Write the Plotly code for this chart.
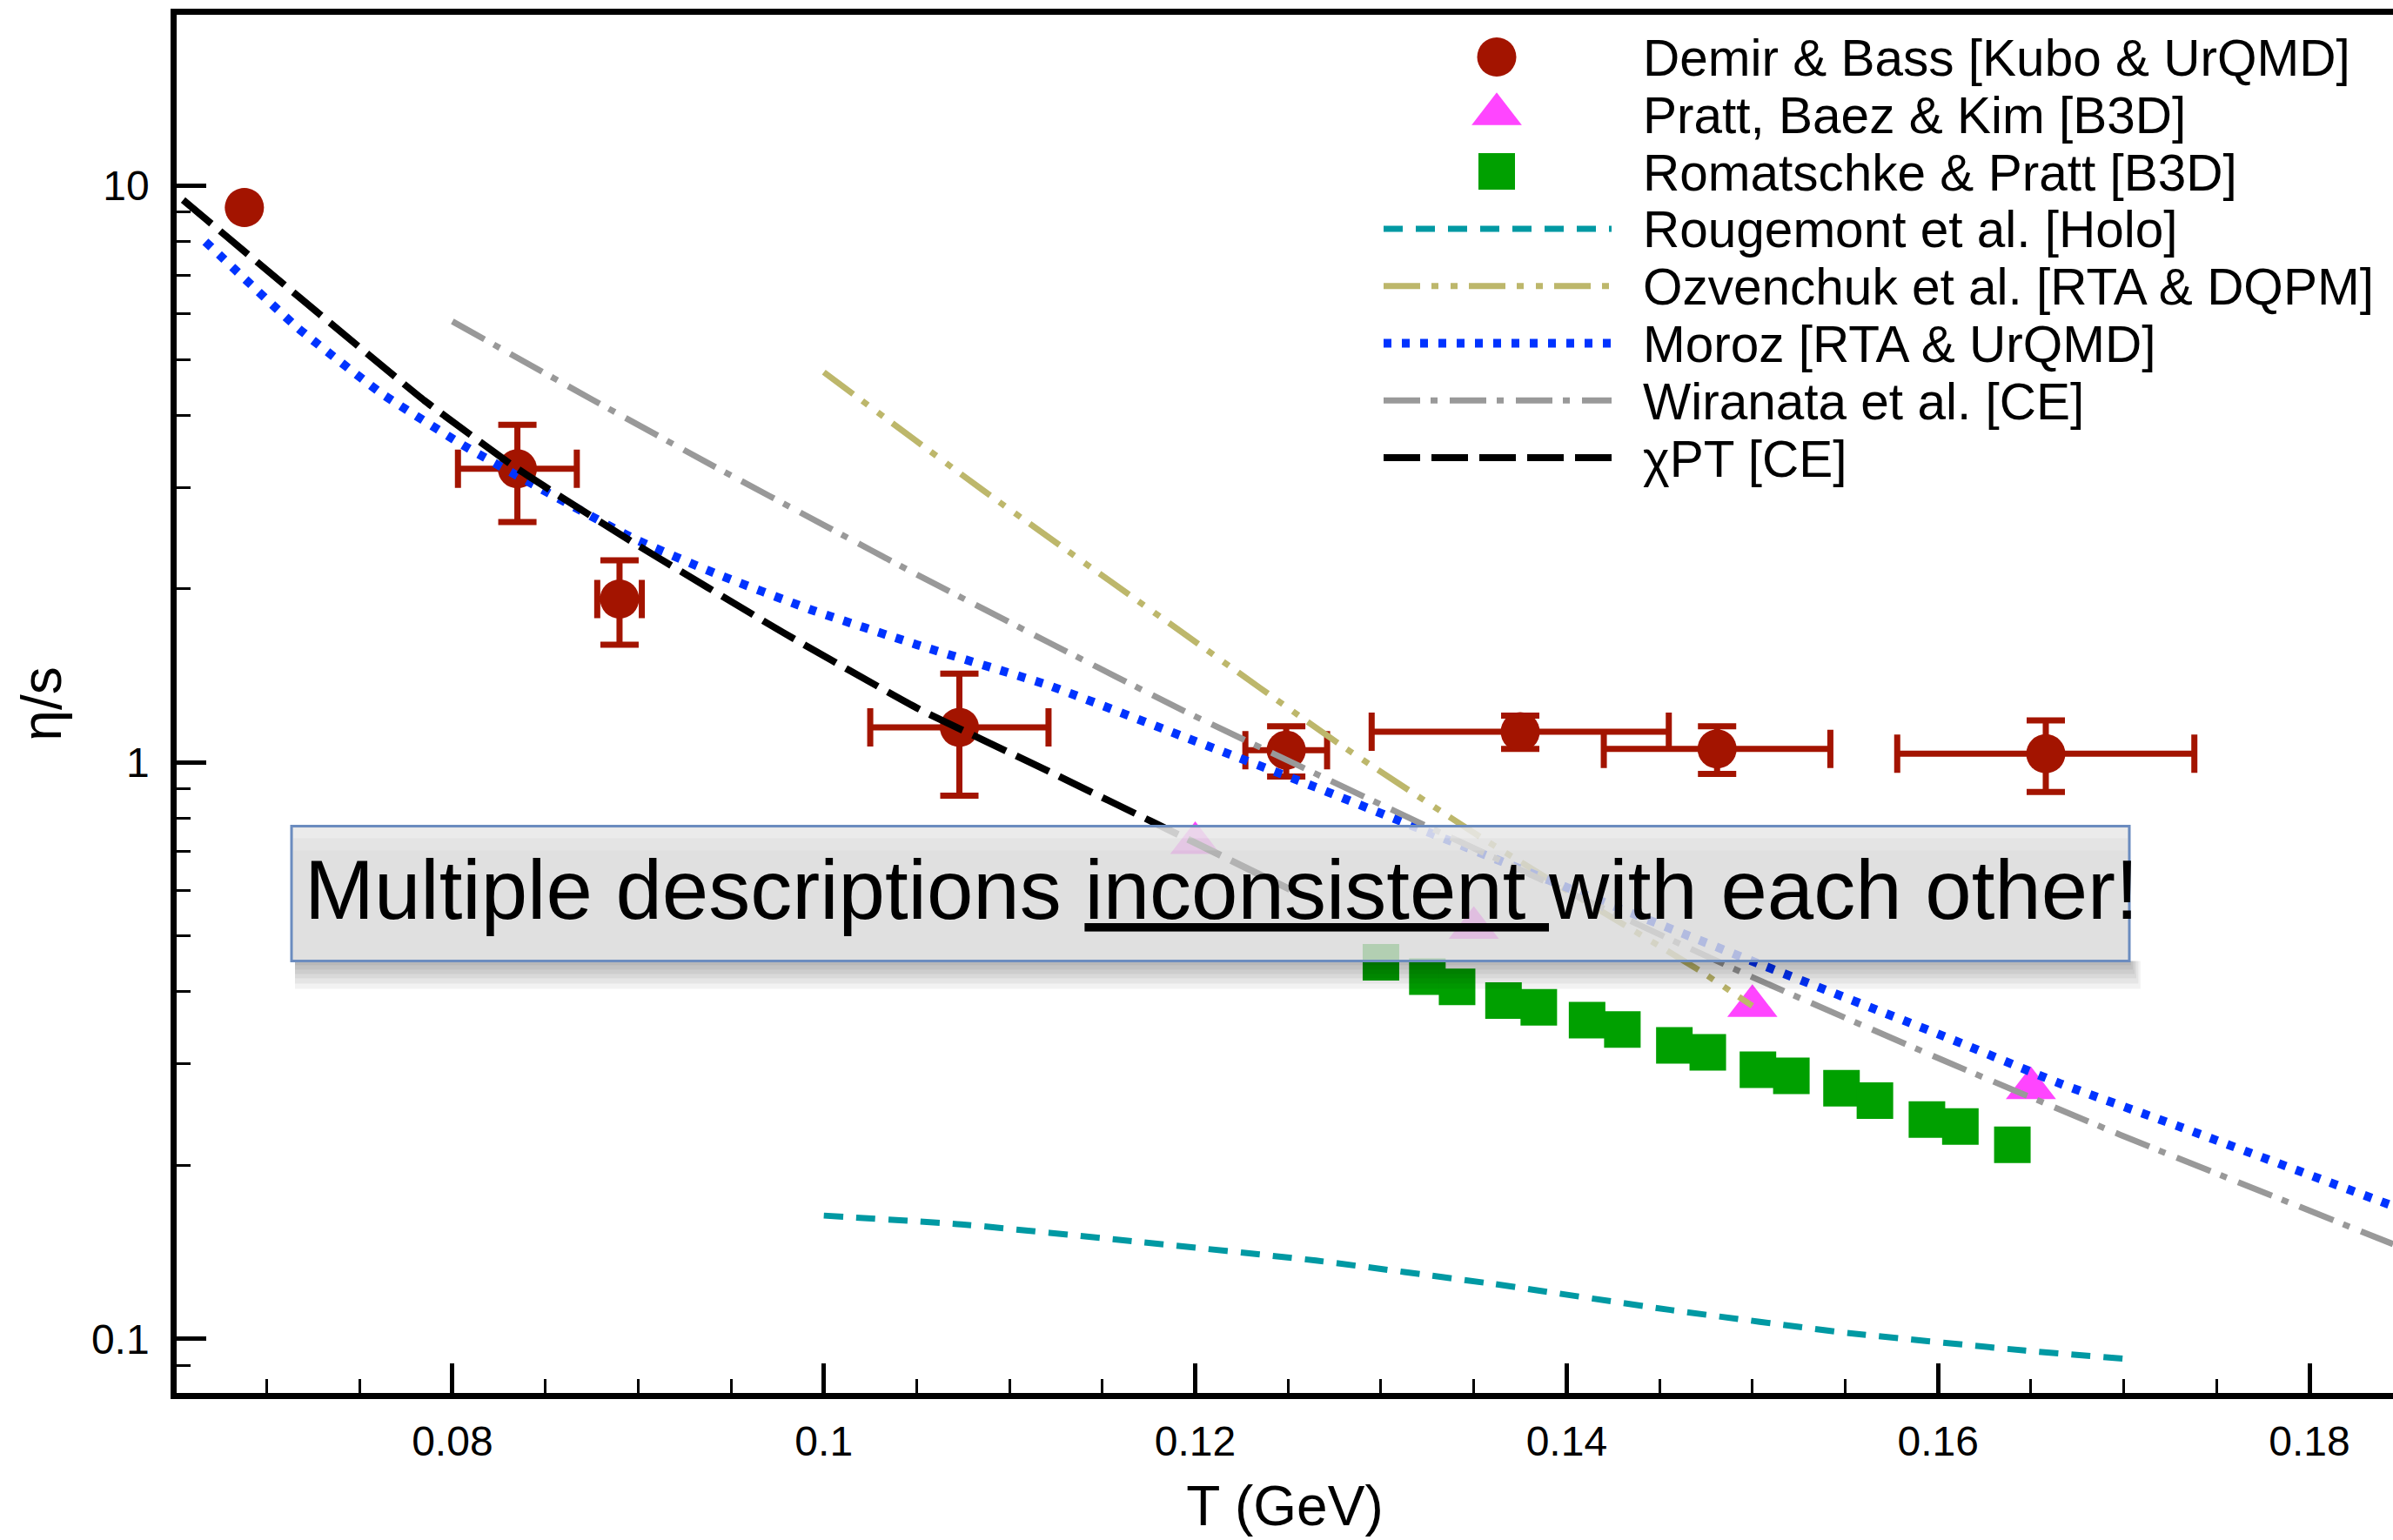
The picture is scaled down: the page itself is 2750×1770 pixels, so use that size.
import plotly.graph_objects as go

# ---------------- data ----------------
demir_T = [0.0688, 0.0835, 0.0890, 0.1073, 0.1249, 0.1375, 0.1481, 0.1658]
demir_eta = [9.17, 3.23, 1.92, 1.15, 1.05, 1.13, 1.055, 1.035]
demir_T_err = [0.0, 0.0032, 0.0012, 0.0048, 0.0022, 0.0080, 0.0061, 0.0080]
demir_eta_err = [0.0, 0.62, 0.32, 0.275, 0.105, 0.075, 0.10, 0.147]

pratt_T = [0.120, 0.135, 0.150, 0.165]
pratt_eta = [0.724, 0.516, 0.378, 0.272]

roma_T = [0.1300, 0.1325, 0.1341, 0.1366, 0.1385, 0.1411, 0.1430, 0.1458,
          0.1476, 0.1503, 0.1521, 0.1548, 0.1566, 0.1594, 0.1612, 0.1640]
roma_eta = [0.450, 0.425, 0.408, 0.386, 0.376, 0.357, 0.344, 0.323,
            0.314, 0.293, 0.286, 0.272, 0.259, 0.240, 0.2335, 0.217]

roug_T = [0.100, 0.1074, 0.1169, 0.1265, 0.1360, 0.1456, 0.1552, 0.1647, 0.170]
roug_eta = [0.1636, 0.158, 0.1474, 0.1367, 0.1246, 0.1122, 0.1023, 0.0954, 0.0924]

ozv_T = [0.100, 0.1086, 0.1193, 0.1277, 0.1353, 0.140, 0.1472, 0.150]
ozv_eta = [4.75, 2.96, 1.68, 1.079, 0.744, 0.60, 0.4345, 0.378]

moroz_T = [0.0667, 0.0717, 0.0762, 0.0807, 0.0852, 0.0897, 0.0941, 0.0993, 0.1050,
           0.1121, 0.1193, 0.1265, 0.1313, 0.1400, 0.1503, 0.1604, 0.1666, 0.1729,
           0.1845]
moroz_eta = [8.00, 5.66, 4.36, 3.53, 2.93, 2.45, 2.13, 1.84, 1.60,
             1.36, 1.11, 0.905, 0.785, 0.607, 0.448, 0.334, 0.277, 0.234,
             0.170]

wir_T = [0.0800, 0.0874, 0.0941, 0.1001, 0.1050, 0.1121, 0.1193, 0.1265, 0.1336,
         0.1500, 0.1604, 0.1698, 0.1845]
wir_eta = [5.82, 4.28, 3.26, 2.57, 2.118, 1.615, 1.232, 0.955, 0.745,
           0.424, 0.303, 0.226, 0.146]

chpt_T = [0.0655, 0.0717, 0.0785, 0.0835, 0.0897, 0.0978, 0.1050, 0.1121, 0.1176,
          0.1251]
chpt_eta = [9.45, 6.43, 4.24, 3.23, 2.41, 1.68, 1.243, 0.965, 0.791, 0.602]

series_names = [
    "Demir & Bass [Kubo & UrQMD]",
    "Pratt, Baez & Kim [B3D]",
    "Romatschke & Pratt [B3D]",
    "Rougemont et al. [Holo]",
    "Ozvenchuk et al. [RTA & DQPM]",
    "Moroz [RTA & UrQMD]",
    "Wiranata et al. [CE]",
    "\u03c7PT [CE]",
]

x_tickvals = [0.08, 0.10, 0.12, 0.14, 0.16, 0.18]
x_ticktext = ["0.08", "0.1", "0.12", "0.14", "0.16", "0.18"]
y_tickvals = [0.1, 1, 10]
y_ticktext = ["0.1", "1", "10"]
x_title = "T (GeV)"
y_title = "\u03b7/s"
box_text = "Multiple descriptions <u>inconsistent </u>with each other!"

# ---------------- styles / layout constants ----------------
W, H = 2750, 1770
ML, MR, MT, MB = 203, 0, 17, 169
FONT = "Liberation Sans, Arial, Helvetica, sans-serif"

RED = "#a31400"
MAGENTA = "#ff45ff"
GREEN = "#00a000"
TEAL = "#0099a3"
OLIVE = "#bdb76b"
BLUE = "#0033ff"
GRAY = "#999999"
BLACK = "#000000"

marker_styles = [
    dict(symbol="circle", size=45, color=RED),
    dict(symbol="triangle-up", size=50, color=MAGENTA),
    dict(symbol="square", size=42, color=GREEN),
]
line_styles = [
    dict(color=TEAL, width=7, dash="22px,15px"),
    dict(color=OLIVE, width=7, dash="42px,13px,8px,14px,8px,13px"),
    dict(color=BLUE, width=10, dash="9px,12px"),
    dict(color=GRAY, width=7, dash="42px,12px,8px,14px"),
    dict(color=BLACK, width=8, dash="42px,13px"),
]

fig = go.Figure()

# --- marker series ---
fig.add_trace(go.Scatter(
    x=demir_T, y=demir_eta, mode="markers", name=series_names[0],
    marker=marker_styles[0], showlegend=False,
    error_x=dict(type="data", array=demir_T_err, color=RED, thickness=7, width=22),
    error_y=dict(type="data", array=demir_eta_err, color=RED, thickness=7, width=22),
))
fig.add_trace(go.Scatter(x=pratt_T, y=pratt_eta, mode="markers", name=series_names[1],
                         marker=marker_styles[1], showlegend=False))
fig.add_trace(go.Scatter(x=roma_T, y=roma_eta, mode="markers", name=series_names[2],
                         marker=marker_styles[2], showlegend=False))

# --- curve series ---
curves = [(roug_T, roug_eta), (ozv_T, ozv_eta), (moroz_T, moroz_eta),
          (wir_T, wir_eta), (chpt_T, chpt_eta)]
for i, (cx, cy) in enumerate(curves):
    fig.add_trace(go.Scatter(x=cx, y=cy, mode="lines", name=series_names[3 + i],
                             line=dict(**line_styles[i], shape="spline", smoothing=0.4),
                             showlegend=False))

# --- hand-placed legend (pixel coordinates on an overlay axis pair) ---
leg_row0, leg_dy = 65.5, 65.8
leg_sym_x, leg_line_x0, leg_line_x1, leg_text_x = 1720, 1590, 1852, 1886
annotations = []
for i, nm in enumerate(series_names):
    ry = leg_row0 + i * leg_dy
    if i < 3:
        fig.add_trace(go.Scatter(x=[leg_sym_x], y=[ry], mode="markers",
                                 marker=marker_styles[i], xaxis="x2", yaxis="y2",
                                 showlegend=False, hoverinfo="skip"))
    else:
        fig.add_trace(go.Scatter(x=[leg_line_x0, leg_line_x1], y=[ry, ry], mode="lines",
                                 line=line_styles[i - 3], xaxis="x2", yaxis="y2",
                                 showlegend=False, hoverinfo="skip"))
    annotations.append(dict(x=leg_text_x, y=ry + 1, xref="x2", yref="y2", text=nm,
                            showarrow=False, xanchor="left", yanchor="middle",
                            font=dict(family=FONT, size=58.5, color="black")))

# --- text box with shadow ---
bx0, bx1, by0, by1 = 335, 2447, 949.5, 1104.5
shapes = []
for d in (5, 10, 15, 20, 26, 32):
    shapes.append(dict(type="rect", xref="x2", yref="y2", x0=bx0 + 4, x1=bx1 + d * 0.4,
                       y0=by1, y1=by1 + d, line=dict(width=0),
                       fillcolor="rgba(0,0,0,0.05)", layer="above"))
shapes.append(dict(type="rect", xref="x2", yref="y2", x0=bx0, x1=bx1, y0=by0, y1=by1,
                   fillcolor="rgba(217,217,217,0.82)",
                   line=dict(color="#6b8cbf", width=3), layer="above"))
shapes.append(dict(type="rect", xref="x2", yref="y2", x0=bx0 + 2, x1=bx1 - 2,
                   y0=by0 + 2, y1=by0 + 14, fillcolor="rgba(255,255,255,0.35)",
                   line=dict(width=0), layer="above"))
shapes.append(dict(type="rect", xref="x2", yref="y2", x0=bx0 + 2, x1=bx1 - 2,
                   y0=by0 + 14, y1=by0 + 28, fillcolor="rgba(255,255,255,0.15)",
                   line=dict(width=0), layer="above"))
annotations.append(dict(x=1404, y=1022, xref="x2", yref="y2", text=box_text,
                        showarrow=False, xanchor="center", yanchor="middle",
                        font=dict(family=FONT, size=96, color="black")))

x_minor = [round(0.065 + 0.005 * k, 3) for k in range(1, 24)]
x_minor = [v for v in x_minor if all(abs(v - t) > 1e-9 for t in x_tickvals)]
y_minor = [0.09] + [k / 10 for k in range(2, 10)] + [float(k) for k in range(2, 10)]

axis_common = dict(showline=True, linecolor="black", linewidth=6.5, ticks="inside",
                   ticklen=34, tickwidth=5, tickcolor="black", showgrid=False,
                   zeroline=False, tickfont=dict(family=FONT, size=48, color="black"))

fig.update_layout(
    width=W, height=H,
    margin=dict(l=ML, r=MR, t=MT, b=MB, pad=0),
    paper_bgcolor="white", plot_bgcolor="white",
    font=dict(family=FONT, color="black"),
    showlegend=False,
    xaxis=dict(**axis_common, range=[0.08 - 317 * 0.02 / 427, 0.18 + 96 * 0.02 / 427],
               mirror=True, tickmode="array", tickvals=x_tickvals, ticktext=x_ticktext,
               ticklabelstandoff=8,
               minor=dict(ticks="inside", ticklen=16, tickwidth=3, tickcolor="black",
                          tickvals=x_minor, showgrid=False),
               title=dict(text=x_title, font=dict(family=FONT, size=64, color="black"),
                          standoff=28)),
    yaxis=dict(**axis_common, type="log", range=[-1.0939, 1.2967], mirror=False,
               tickmode="array", tickvals=y_tickvals, ticktext=y_ticktext,
               ticklabelstandoff=15,
               minor=dict(ticks="inside", ticklen=16, tickwidth=3, tickcolor="black",
                          tickvals=y_minor, showgrid=False),
               title=dict(text=y_title, font=dict(family=FONT, size=64, color="black"),
                          standoff=16)),
    xaxis2=dict(overlaying="x", anchor="y2", range=[ML, W - MR], visible=False,
                fixedrange=True),
    yaxis2=dict(overlaying="y", anchor="x2", range=[H - MB, MT], visible=False,
                fixedrange=True),
    shapes=shapes,
    annotations=annotations,
)

fig.write_html("out.html")
